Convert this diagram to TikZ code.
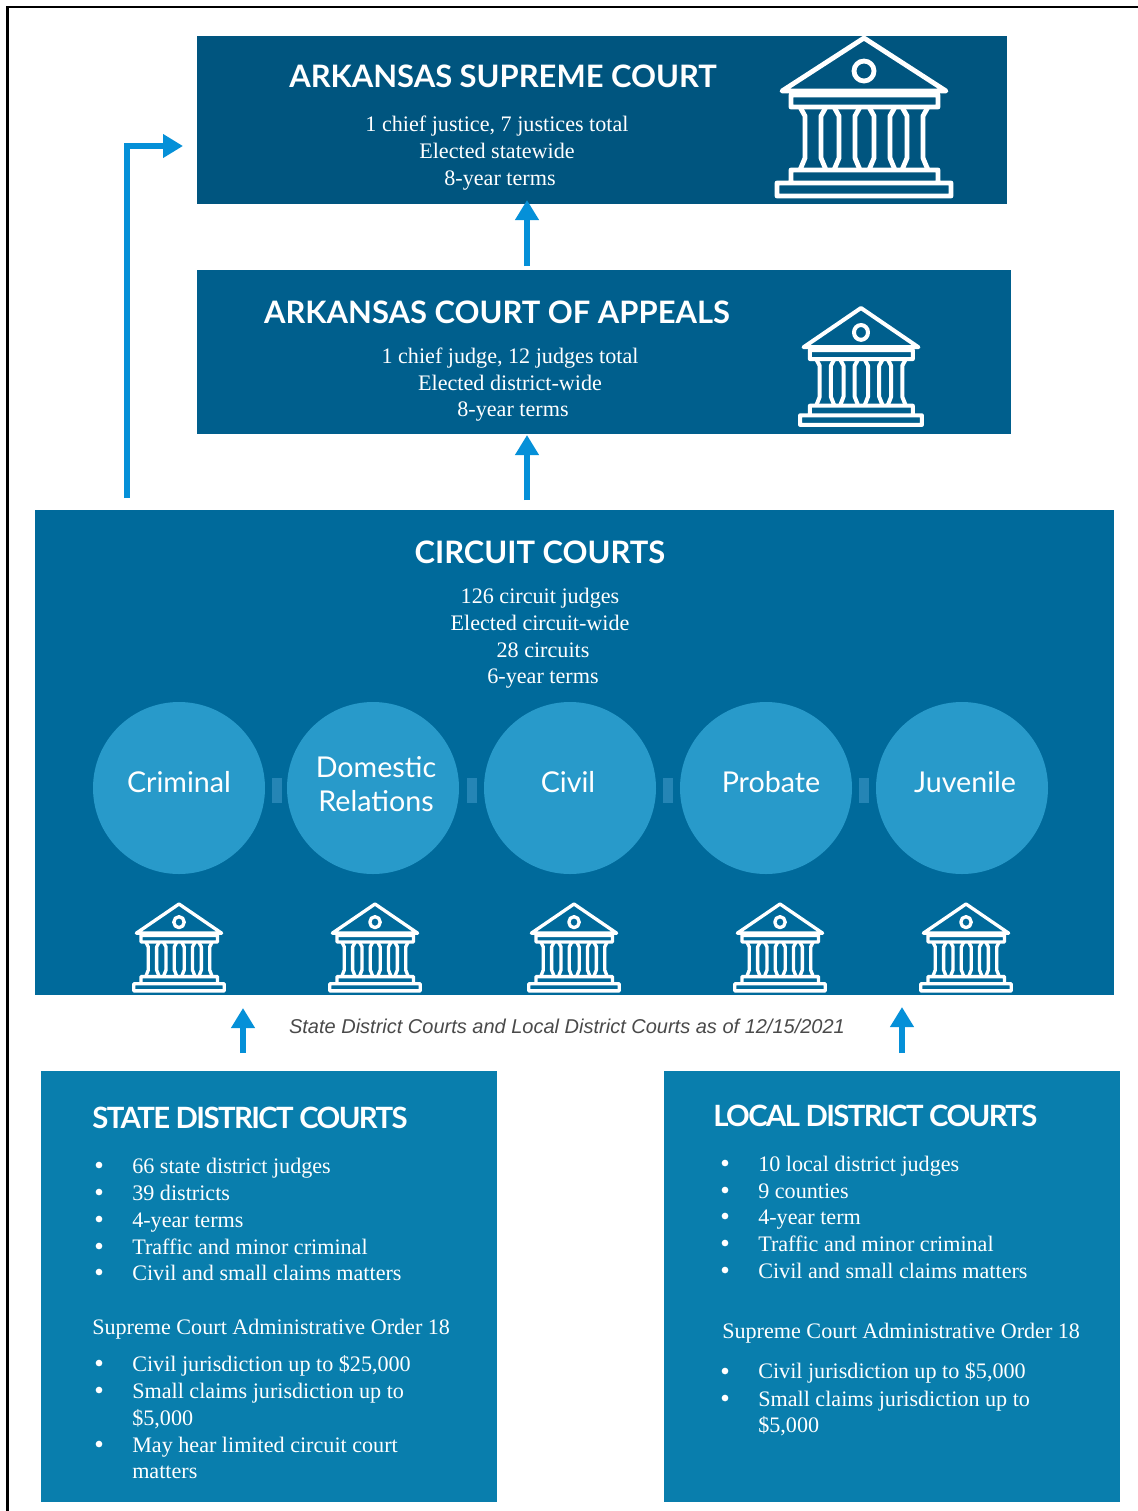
\documentclass[tikz,border=0pt]{standalone}
\usepackage{fontspec}
\setmainfont{Liberation Serif}
\newfontfamily\latofont{Lato}
\newfontfamily\capfont{Liberation Sans}
\newfontfamily\tightfont[LetterSpace=-5.5]{Lato}
\usetikzlibrary{arrows.meta}
\definecolor{cSupreme}{HTML}{00557F}
\definecolor{cAppeals}{HTML}{005F8D}
\definecolor{cCircuit}{HTML}{006A9B}
\definecolor{cCircle}{HTML}{289ACA}
\definecolor{cLink}{HTML}{2585B5}
\definecolor{cDistrict}{HTML}{097EAD}
\definecolor{cArrow}{HTML}{0590D8}
\definecolor{cCaption}{HTML}{4A4A4A}
\tikzset{
  panel/.style={inner sep=0pt,outer sep=0pt,rectangle,anchor=north west},
  titletext/.style={text=white,inner sep=0pt,font=\latofont\bfseries\fontsize{23.2}{26}\selectfont},
  tighttitle/.style={text=white,inner sep=0pt,anchor=west,font=\tightfont\bfseries\fontsize{22}{26}\selectfont},
  bodytext/.style={text=white,inner sep=0pt,text height=14pt,text depth=3.5pt,font=\fontsize{16.6}{19}\selectfont},
  listtext/.style={bodytext,anchor=west},
  bulletdot/.style={circle,fill=white,inner sep=0pt,minimum size=5pt},
  courtcircle/.style={circle,fill=cCircle,inner sep=0pt,minimum size=129pt},
  circlelabel/.style={text=white,inner sep=0pt,align=center,font=\latofont\fontsize{21.5}{25.5}\selectfont},
  linkbar/.style={fill=cLink,inner sep=0pt,minimum width=7.5pt,minimum height=18.5pt},
  flow/.style={draw=cArrow,line width=3.8pt,-{Triangle[length=15pt,width=17pt]}},
  courthouse/.pic={
    \draw[draw=white,fill=none,line join=round]
      (0,0) -- (-82,53) -- (82,53) -- cycle
      (0,33) circle[radius=10]
      (-73,57) rectangle (74,69)
      (-73,132) rectangle (74,145)
      (-87,145) rectangle (87,158);
    \foreach \cx in {-51,-17,18,51}{
      \draw[draw=white,line join=round]
        (\cx-13,69) -- (\cx-8,78) -- (\cx-8,120) -- (\cx-13,132)
        (\cx+13,69) -- (\cx+8,78) -- (\cx+8,120) -- (\cx+13,132);
    }
  }
}
\begin{document}
\begin{tikzpicture}[x=0.75pt,y=-0.75pt]
\useasboundingbox (0,0) rectangle (1138,1511);
\fill[white] (0,0) rectangle (1138,1511);
\draw[black,line width=1.6pt] (7.5,1511) -- (7.5,7) -- (1138,7);

% panels
\node[panel,fill=cSupreme,minimum width=607.5pt,minimum height=126pt] (supreme) at (197,36) {};
\node[panel,fill=cAppeals,minimum width=610.5pt,minimum height=123pt] (appeals) at (197,270) {};
\node[panel,fill=cCircuit,minimum width=809.25pt,minimum height=363.75pt] (circuit) at (35,510) {};
\node[panel,fill=cDistrict,minimum width=342pt,minimum height=323.25pt] (state) at (41,1071) {};
\node[panel,fill=cDistrict,minimum width=342pt,minimum height=323.25pt] (local) at (664,1071) {};

% supreme
\node[titletext] (t1) at (503,76) {ARKANSAS SUPREME COURT};
\node[bodytext] (s1) at (497,124) {1 chief justice, 7 justices total};
\node[bodytext] (s2) at (497,151) {Elected statewide};
\node[bodytext] (s3) at (500,178) {8-year terms};
\pic[scale=1,line width=3.6pt] at (864,38) {courthouse};

% appeals
\node[titletext] (t2) at (497,312) {ARKANSAS COURT OF APPEALS};
\node[bodytext] (a1) at (510,356) {1 chief judge, 12 judges total};
\node[bodytext] (a2) at (510,383) {Elected district-wide};
\node[bodytext] (a3) at (513,409) {8-year terms};
\pic[xscale=.70,yscale=.74,line width=3pt] at (861,308) {courthouse};

% circuit
\node[titletext] (t3) at (540,552) {CIRCUIT COURTS};
\node[bodytext] (c1) at (540,596) {126 circuit judges};
\node[bodytext] (c2) at (540,623) {Elected circuit-wide};
\node[bodytext] (c3) at (543,650) {28 circuits};
\node[bodytext] (c4) at (543,676) {6-year terms};

\node[linkbar] (l1) at (276.5,790.5) {};
\node[linkbar] (l2) at (471.5,790.5) {};
\node[linkbar] (l3) at (667.5,790.5) {};
\node[linkbar] (l4) at (863.5,790.5) {};

\node[courtcircle] (criminal) at (179,788) {};
\node[courtcircle] (domestic) at (373,788) {};
\node[courtcircle] (civil) at (570,788) {};
\node[courtcircle] (probate) at (766,788) {};
\node[courtcircle] (juvenile) at (962,788) {};
\node[circlelabel] (n1) at (179,782) {Criminal};
\node[circlelabel] (n2) at (376,784) {Domestic\\Relations};
\node[circlelabel] (n3) at (568,782) {Civil};
\node[circlelabel] (n4) at (771,782) {Probate};
\node[circlelabel] (n5) at (965,782) {Juvenile};

\foreach \ix in {179,375,574,780,966}{
  \pic[xscale=.52,yscale=.55,line width=2.5pt] at (\ix,904) {courthouse};
}

% caption
\node[inner sep=0pt,text=cCaption,font=\capfont\itshape\fontsize{15}{18}\selectfont] (cap) at (567,1026) {State District Courts and Local District Courts as of 12/15/2021};

% state
\node[tighttitle] (t4) at (92,1118) {STATE DISTRICT COURTS};
\node[listtext] (b1) at (132,1166) {66 state district judges};
\node[listtext] (b2) at (132,1193) {39 districts};
\node[listtext] (b3) at (132,1220) {4-year terms};
\node[listtext] (b4) at (132,1247) {Traffic and minor criminal};
\node[listtext] (b5) at (132,1273) {Civil and small claims matters};
\node[listtext] (b6) at (92,1327) {Supreme Court Administrative Order 18};
\node[listtext] (b7) at (132,1364) {Civil jurisdiction up to \$25,000};
\node[listtext] (b8) at (132,1391) {Small claims jurisdiction up to};
\node[listtext] (b9) at (132,1418) {\$5,000};
\node[listtext] (b10) at (132,1445) {May hear limited circuit court};
\node[listtext] (b11) at (132,1471) {matters};
\foreach \by in {1165,1192,1219,1246,1272,1363,1390,1444}{
  \node[bulletdot] at (99,\by) {};
}

% local
\node[tighttitle] (t5) at (713,1116) {LOCAL DISTRICT COURTS};
\node[listtext] (d1) at (758,1164) {10 local district judges};
\node[listtext] (d2) at (758,1191) {9 counties};
\node[listtext] (d3) at (758,1217) {4-year term};
\node[listtext] (d4) at (758,1244) {Traffic and minor criminal};
\node[listtext] (d5) at (758,1271) {Civil and small claims matters};
\node[listtext] (d6) at (722,1331) {Supreme Court Administrative Order 18};
\node[listtext] (d7) at (758,1371) {Civil jurisdiction up to \$5,000};
\node[listtext] (d8) at (758,1399) {Small claims jurisdiction up to};
\node[listtext] (d9) at (758,1425) {\$5,000};
\foreach \by in {1163,1190,1216,1243,1270,1371,1398}{
  \node[bulletdot] at (725,\by) {};
}

% connectors
\coordinate (ua) at (527,266);
\coordinate (ub) at (527,200);
\coordinate (uc) at (527,500);
\coordinate (ud) at (527,435);
\coordinate (ue) at (243,1053);
\coordinate (uf) at (243,1008);
\coordinate (ug) at (902,1053);
\coordinate (uh) at (902,1007);
\coordinate (ui) at (127,498);
\coordinate (uj) at (183,146);
\draw[flow] (ua) -- (ub);
\draw[flow] (uc) -- (ud);
\draw[flow] (ue) -- (uf);
\draw[flow] (ug) -- (uh);
\draw[flow] (ui) |- (uj);
\end{tikzpicture}
\end{document}
